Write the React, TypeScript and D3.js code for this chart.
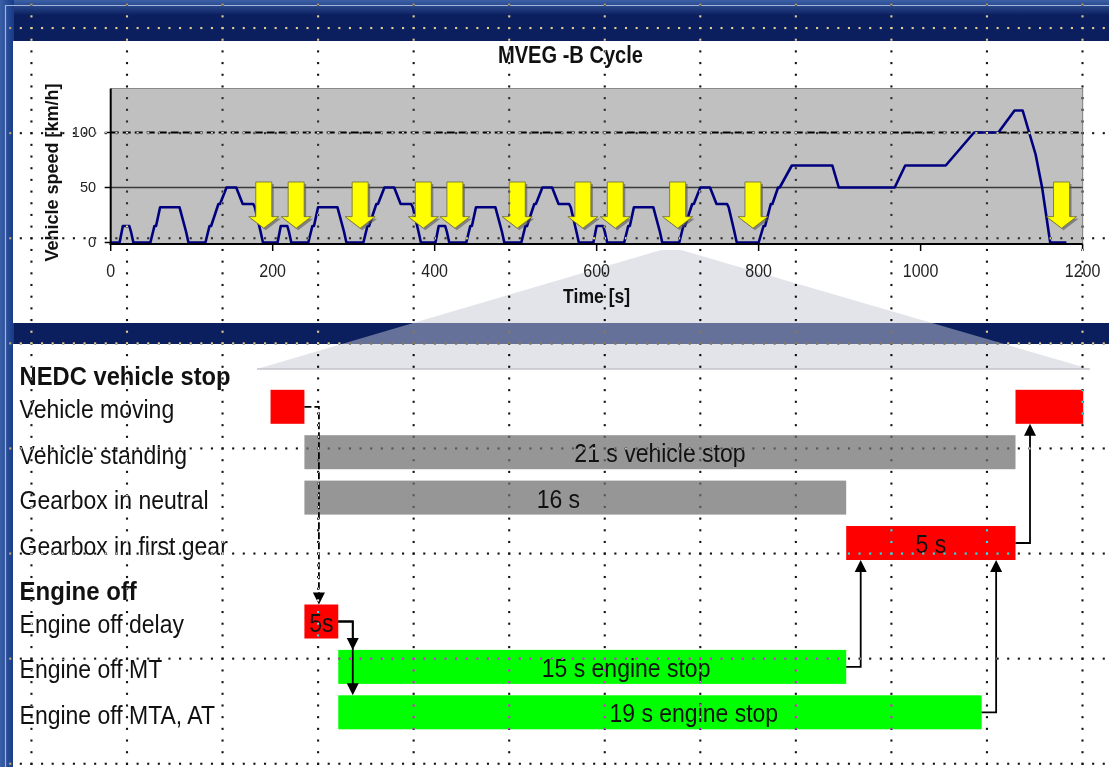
import React from 'react';
import * as d3 from 'd3';

// MVEG-B driving cycle, speed trace (s, km/h)
const cycleTime = [
  0, 11, 15, 23, 25, 28, 49, 54, 56, 61, 85, 93, 96, 117, 122, 124, 133, 135, 143, 155, 163, 176, 178, 185, 188,
  195, 206, 210, 218, 220, 223, 244, 249, 251, 256, 280, 288, 291, 312, 317, 319, 328, 330, 338, 350, 358, 371, 373, 380, 383,
  390, 401, 405, 413, 415, 418, 439, 444, 446, 451, 475, 483, 486, 507, 512, 514, 523, 525, 533, 545, 553, 566, 568, 575, 578,
  585, 596, 600, 608, 610, 613, 634, 639, 641, 646, 670, 678, 681, 702, 707, 709, 718, 720, 728, 740, 748, 761, 763, 770, 773,
  800, 806, 808, 815, 817, 824, 826, 841, 891, 899, 968, 981, 1031, 1066, 1096, 1116, 1126, 1142, 1150, 1160, 1180,
];
const cycleSpeed = [
  0, 0, 15, 15, 10, 0, 0, 15, 15, 32, 32, 10, 0, 0, 15, 15, 35, 35, 50, 50, 35, 35, 32, 10, 0,
  0, 0, 15, 15, 10, 0, 0, 15, 15, 32, 32, 10, 0, 0, 15, 15, 35, 35, 50, 50, 35, 35, 32, 10, 0,
  0, 0, 15, 15, 10, 0, 0, 15, 15, 32, 32, 10, 0, 0, 15, 15, 35, 35, 50, 50, 35, 35, 32, 10, 0,
  0, 0, 15, 15, 10, 0, 0, 15, 15, 32, 32, 10, 0, 0, 15, 15, 35, 35, 50, 50, 35, 35, 32, 10, 0,
  0, 15, 15, 35, 35, 50, 50, 70, 70, 50, 50, 70, 70, 100, 100, 120, 120, 80, 50, 0, 0,
];
const stopArrowTimes = [189, 229, 308, 386, 425, 502, 583, 623, 700, 793, 1174];
const speedTicks = [0, 50, 100];
const timeTicks = [0, 200, 400, 600, 800, 1000, 1200];

// zoomed vehicle stop (seconds relative to the stop)
const stopStart = 681;
const zoomWindow = [-1.4, 23.2];
const ganttRows = [
  { key: 'nedc', label: 'NEDC vehicle stop', heading: true },
  { key: 'moving', label: 'Vehicle moving' },
  { key: 'standing', label: 'Vehicle standing' },
  { key: 'neutral', label: 'Gearbox in neutral' },
  { key: 'first', label: 'Gearbox in first gear' },
  { key: 'engine', label: 'Engine off', heading: true },
  { key: 'delay', label: 'Engine off delay' },
  { key: 'mt', label: 'Engine off MT' },
  { key: 'mta', label: 'Engine off MTA, AT' },
];
const ganttBars = [
  { row: 'moving', start: -1, end: 0, kind: 'event' },
  { row: 'moving', start: 21, end: 23, kind: 'event' },
  { row: 'standing', start: 0, end: 21, kind: 'state', label: '21 s vehicle stop' },
  { row: 'neutral', start: 0, end: 16, kind: 'state', label: '16 s', labelAt: 7.5 },
  { row: 'first', start: 16, end: 21, kind: 'event', label: '5 s' },
  { row: 'delay', start: 0, end: 1, kind: 'event', label: '5s' },
  { row: 'mt', start: 1, end: 16, kind: 'engine', label: '15 s engine stop', labelAt: 9.5 },
  { row: 'mta', start: 1, end: 20, kind: 'engine', label: '19 s engine stop', labelAt: 11.5 },
];
const ganttLinks = [
  { from: 0, to: 5, wait: true },
  { from: 5, to: 6 },
  { from: 5, to: 7 },
  { from: 6, to: 4 },
  { from: 7, to: 4 },
  { from: 4, to: 1 },
];

const W = 1109;
const H = 767;
const FONT = 'Arial, "Liberation Sans", Helvetica, sans-serif';
const NAVY = '#0b1f5f';
const kindColor = { event: '#ff0000', state: '#969696', engine: '#00ff00' };

const Txt = ({ x, y, size, bold = false, anchor = 'start', sy = 1, len, fill = '#111', rotate = 0, children }: any) => (
  <text
    transform={`translate(${x},${y})${rotate ? ` rotate(${rotate})` : ''} scale(1,${sy})`}
    fontFamily={FONT}
    fontSize={size}
    fontWeight={bold ? 'bold' : 'normal'}
    textAnchor={anchor}
    fill={fill}
    textLength={len}
    lengthAdjust={len ? 'spacingAndGlyphs' : undefined}
  >
    {children}
  </text>
);

export default function App() {
  // top chart scales
  const x = d3.scaleLinear().domain([0, 1200]).range([110.7, 1082.6]);
  const y = d3.scaleLinear().domain([0, 140]).range([242.5, 88.5]);
  const plotBottom = 244;

  const pts = cycleTime.map((t, i) => [t, cycleSpeed[i]] as [number, number]);
  const line = d3.line<[number, number]>().x(d => x(d[0])).y(d => y(d[1]));

  // gantt scales
  const gx = d3.scaleLinear().domain(zoomWindow).range([257, 1090]);
  const rowY: Record<string, number> = {};
  let cy = 373.7;
  ganttRows.forEach((r, i) => {
    if (i > 0) cy += ganttRows[i - 1].heading ? 33.1 : 45.4;
    rowY[r.key] = cy;
  });
  const barH = 34;

  const arrowTop = y(55);
  const arrowBase = y(23.5);
  const arrowTip = y(13);
  const arrowPath = (cx: number) =>
    `M${cx - 8},${arrowTop}L${cx + 8},${arrowTop}L${cx + 8},${arrowBase}L${cx + 15},${arrowBase}L${cx},${arrowTip}L${cx - 15},${arrowBase}L${cx - 8},${arrowBase}Z`;

  // background dotted grid
  const colX = d3.range(12).map(k => 31.4 + 95.55 * k);
  const rowGY = d3.range(8).map(r => 28 + 105.1 * r);
  const dots: [number, number][] = [];
  colX.forEach(cx0 => d3.range(-2, 64).forEach(j => dots.push([cx0, 28 + 11.68 * j])));
  rowGY.forEach(ry => d3.range(-2, 102).forEach(i => dots.push([31.4 + 10.617 * i, ry])));

  const trap = [
    [x(stopStart + zoomWindow[0]), 250],
    [x(stopStart + zoomWindow[1]), 250],
    [gx(zoomWindow[1]), 369],
    [gx(zoomWindow[0]), 369],
  ];

  const links = ganttLinks.map((l, i) => {
    const a = ganttBars[l.from];
    const b = ganttBars[l.to];
    const x0 = gx(a.end);
    const y0 = rowY[a.row];
    const x1 = x0 + 14.5;
    const down = rowY[b.row] > y0;
    const y1 = down ? rowY[b.row] - barH / 2 : rowY[b.row] + barH / 2;
    const head = down
      ? `M${x1},${y1}L${x1 - 6},${y1 - 12}L${x1 + 6},${y1 - 12}Z`
      : `M${x1},${y1}L${x1 - 6},${y1 + 12}L${x1 + 6},${y1 + 12}Z`;
    const yEnd = down ? y1 - 10 : y1 + 10;
    return (
      <g key={i}>
        <path
          d={`M${x0},${y0}H${x1}V${yEnd}`}
          fill="none"
          stroke="#000"
          strokeWidth={1.8}
          strokeDasharray={l.wait ? '7,3' : undefined}
        />
        <path d={head} fill="#000" />
      </g>
    );
  });

  return (
    <svg width={W} height={H} style={{ position: 'fixed', left: 0, top: 0, display: 'block' }}>
      <defs>
        <linearGradient id="topFade" x1="0" y1="0" x2="0" y2="1">
          <stop offset="0" stopColor="#3d62a8" />
          <stop offset="1" stopColor={NAVY} />
        </linearGradient>
        <linearGradient id="leftFade" x1="0" y1="0" x2="1" y2="0">
          <stop offset="0" stopColor="#3a60a8" />
          <stop offset="1" stopColor="#183a88" />
        </linearGradient>
      </defs>

      {/* frame */}
      <rect width={W} height={H} fill={NAVY} />
      <rect width={W} height={15} fill="url(#topFade)" />
      <rect width={14} height={H} fill="url(#leftFade)" />
      <path d={`M5.5,${H}V5.5H${W}`} fill="none" stroke="#9fb5da" strokeWidth={1.2} />
      <rect x={13} y={41} width={W - 13} height={282} fill="#fff" />
      <rect x={13} y={344} width={W - 13} height={H - 344} fill="#fff" />

      {/* zoom callout */}
      <polygon points={trap.map(p => p.join(',')).join(' ')} fill="#c4c8d4" opacity={0.49} />
      <line x1={trap[3][0]} x2={trap[2][0]} y1={369} y2={369} stroke="#c2c5ca" strokeWidth={1.5} />

      {/* top chart */}
      <rect x={x(0)} y={y(140)} width={x(1200) - x(0)} height={plotBottom - y(140)} fill="#c0c0c0" />
      <path d={`M${x(0)},${y(140)}H${x(1200)}V${plotBottom}`} fill="none" stroke="#8a8a8a" strokeWidth={1.2} />
      <line x1={x(0)} x2={x(1200)} y1={y(100)} y2={y(100)} stroke="#000" strokeWidth={2} strokeDasharray="8,4" />
      <line x1={x(0)} x2={x(1200)} y1={y(50)} y2={y(50)} stroke="#3a3a3a" strokeWidth={1.6} />
      <path d={line(pts) || ''} fill="none" stroke="#00007f" strokeWidth={2.6} strokeLinejoin="round" />
      {stopArrowTimes.map((t, i) => (
        <g key={i}>
          <path d={arrowPath(x(t))} transform="translate(2,2)" fill="#555" opacity={0.6} />
          <path d={arrowPath(x(t))} fill="#ffff00" stroke="#6b6b30" strokeWidth={0.8} />
        </g>
      ))}
      <line x1={x(0)} x2={x(0)} y1={y(140)} y2={plotBottom + 1} stroke="#000" strokeWidth={2} />
      <line x1={x(0) - 1} x2={x(1200)} y1={plotBottom} y2={plotBottom} stroke="#000" strokeWidth={2} />
      {speedTicks.map(v => (
        <g key={v}>
          <line x1={x(0) - 6} x2={x(0)} y1={y(v)} y2={y(v)} stroke="#000" strokeWidth={1.5} />
          <Txt x={96} y={y(v) + 4.8} size={14.5} sy={1.05} anchor="end" fill="#222">{v}</Txt>
        </g>
      ))}
      {timeTicks.map(t => (
        <g key={t}>
          <line x1={x(t)} x2={x(t)} y1={plotBottom} y2={plotBottom + 7} stroke="#000" strokeWidth={1.5} />
          <Txt x={x(t)} y={276.5} size={16} sy={1.2} anchor="middle" fill="#222">{t}</Txt>
        </g>
      ))}
      <Txt x={570.5} y={63.3} size={21} bold sy={1.1} len={145} anchor="middle">MVEG -B Cycle</Txt>
      <Txt x={596.6} y={303} size={18} bold sy={1.15} len={67} anchor="middle">Time [s]</Txt>
      <Txt x={58} y={172.5} size={18} bold rotate={-90} len={178} anchor="middle">Vehicle speed [km/h]</Txt>

      {/* gantt */}
      {ganttRows.map(r => (
        <Txt
          key={r.key}
          x={19.6}
          y={rowY[r.key] + 11.5}
          size={r.heading ? 24 : 23}
          bold={!!r.heading}
          sy={r.heading ? 1.06 : 1.1}
          len={r.key === 'nedc' ? 211 : undefined}
        >
          {r.label}
        </Txt>
      ))}
      {ganttBars.map((b, i) => (
        <rect
          key={i}
          x={gx(b.start)}
          y={rowY[b.row] - barH / 2}
          width={gx(b.end) - gx(b.start)}
          height={barH}
          fill={kindColor[b.kind as keyof typeof kindColor]}
        />
      ))}
      {ganttBars.filter(b => b.label).map((b, i) => (
        <Txt
          key={i}
          x={gx(b.labelAt ?? (b.start + b.end) / 2)}
          y={rowY[b.row] + 10}
          size={23}
          sy={1.1}
          anchor="middle"
          fill="#111"
        >
          {b.label}
        </Txt>
      ))}
      {links}

      {/* slide grid, drawn inverted over everything */}
      <g style={{ mixBlendMode: 'difference' }}>
        {dots.map((d, i) => (
          <rect key={i} x={d[0] - 1} y={d[1] - 1} width={2.1} height={2.1} fill="#ececec" />
        ))}
      </g>
    </svg>
  );
}
